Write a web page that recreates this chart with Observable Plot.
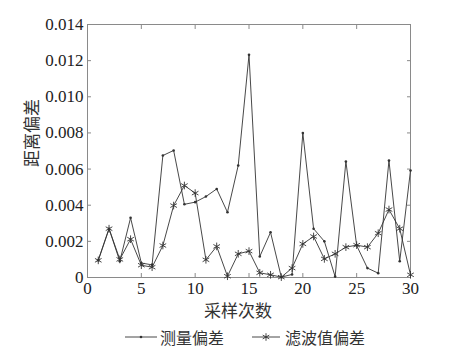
<!DOCTYPE html>
<html>
<head>
<meta charset="utf-8">
<script src="https://cdn.jsdelivr.net/npm/d3@7"></script>
<script src="https://cdn.jsdelivr.net/npm/@observablehq/plot@0.6"></script>
<style>
  html, body { margin: 0; padding: 0; background: #fff; }
  #chart { width: 450px; }
  #chart svg text { font-family: "Liberation Serif", "Times New Roman", Times, "DejaVu Serif", serif; }
  #chart svg text.cjk { font-family: "Noto Sans CJK SC", sans-serif; }
  .legend { display: flex; align-items: center; height: 30px; margin-top: 0px; font-family: "Noto Sans CJK SC", sans-serif; font-size: 16px; color: #333; }
  .legend .item { display: flex; align-items: center; }
  .legend svg { display: block; }
</style>
</head>
<body>
<div id="chart"></div>
<script>
const samples = d3.range(1, 31);
const measured = [0.00095, 0.0027, 0.0009, 0.0033, 0.0008, 0.0007, 0.00675, 0.00703, 0.00405, 0.00417,
                  0.00448, 0.0049, 0.00361, 0.0062, 0.01232, 0.00116, 0.0025, 0.00002, 0.00017, 0.00799,
                  0.0027, 0.002, 0.00005, 0.00642, 0.00177, 0.00052, 0.00024, 0.00647, 0.0009, 0.00592];
const filtered = [0.00095, 0.0027, 0.001, 0.00212, 0.00068, 0.00057, 0.00177, 0.00398, 0.00509, 0.00467,
                  0.00098, 0.00172, 0.00007, 0.00131, 0.00146, 0.00026, 0.00015, 0.00002, 0.00052, 0.00186,
                  0.00227, 0.00103, 0.00131, 0.00168, 0.00179, 0.00168, 0.00245, 0.00376, 0.0027, 0.00015];
const xTicks = [0, 5, 10, 15, 20, 25, 30];
const yTicks = [0, 0.002, 0.004, 0.006, 0.008, 0.010, 0.012, 0.014];
const seriesNames = ["测量偏差", "滤波值偏差"];
const xLabel = "采样次数";
const yLabel = "距离偏差";

const mData = samples.map((s, i) => ({x: s, y: measured[i]}));
const fData = samples.map((s, i) => ({x: s, y: filtered[i]}));
const yFmt = d => d === 0 ? "0" : d.toFixed(3);
const lineColor = "#333";
const frameColor = "#8a8a8a";

const chart = Plot.plot({
  width: 450,
  height: 322,
  marginLeft: 87,
  marginRight: 40,
  marginTop: 24,
  marginBottom: 45,
  style: {fontSize: "17px", color: "#222", background: "#fff"},
  x: {domain: [0, 30], ticks: xTicks},
  y: {domain: [0, 0.014], ticks: yTicks},
  marks: [
    Plot.frame({stroke: frameColor, strokeWidth: 1}),
    Plot.axisX({anchor: "bottom", ticks: xTicks, tickSize: 0, tickPadding: 4, label: null, fontSize: 17, fill: "#222"}),
    Plot.axisX({anchor: "bottom", ticks: xTicks, tickSize: -4, tickFormat: () => "", label: null, stroke: frameColor}),
    Plot.axisX({anchor: "top", ticks: xTicks, tickSize: -4, tickFormat: () => "", label: null, stroke: frameColor}),
    Plot.axisY({anchor: "left", ticks: yTicks, tickSize: 0, tickPadding: 4, tickFormat: yFmt, label: null, fontSize: 17, fill: "#222"}),
    Plot.axisY({anchor: "left", ticks: yTicks, tickSize: -4, tickFormat: () => "", label: null, stroke: frameColor}),
    Plot.axisY({anchor: "right", ticks: yTicks, tickSize: -4, tickFormat: () => "", label: null, stroke: frameColor}),
    Plot.line(mData, {x: "x", y: "y", stroke: lineColor, strokeWidth: 0.9}),
    Plot.dot(mData, {x: "x", y: "y", r: 1.3, fill: lineColor, stroke: "none"}),
    Plot.line(fData, {x: "x", y: "y", stroke: lineColor, strokeWidth: 0.9}),
    Plot.dot(fData, {x: "x", y: "y", r: 3.6, symbol: "asterisk", stroke: lineColor, strokeWidth: 0.9, fill: "none"}),
    Plot.text([xLabel], {text: d => d, frameAnchor: "bottom", lineAnchor: "middle", textAnchor: "middle", dy: 34, dx: -11, fontSize: 17, fill: "#333", className: "cjk"}),
    Plot.text([yLabel], {text: d => d, frameAnchor: "left", lineAnchor: "middle", textAnchor: "middle", rotate: -90, dx: -55, dy: -18, fontSize: 17, fill: "#333", className: "cjk"})
  ]
});
document.getElementById("chart").appendChild(chart);
chart.querySelectorAll("g.cjk text, .cjk text").forEach(t => t.classList.add("cjk"));

// legend
const legend = document.createElement("div");
legend.className = "legend";
function item(name, marker, padLeft, lineW, gap) {
  const it = document.createElement("div");
  it.className = "item";
  it.style.marginLeft = padLeft + "px";
  const svg = d3.create("svg").attr("width", lineW).attr("height", 14);
  svg.append("line").attr("x1", 0).attr("x2", lineW).attr("y1", 7).attr("y2", 7).attr("stroke", lineColor).attr("stroke-width", 0.9);
  if (marker === "dot") {
    svg.append("circle").attr("cx", lineW / 2).attr("cy", 7).attr("r", 1.3).attr("fill", lineColor);
  } else {
    svg.append("path").attr("transform", `translate(${lineW / 2},7)`).attr("d", d3.symbol(d3.symbolAsterisk, 40)()).attr("stroke", lineColor).attr("fill", "none").attr("stroke-width", 0.9);
  }
  it.appendChild(svg.node());
  const t = document.createElement("span");
  t.textContent = name;
  t.style.marginLeft = gap + "px";
  it.appendChild(t);
  return it;
}
legend.appendChild(item(seriesNames[0], "dot", 125, 32, 3));
legend.appendChild(item(seriesNames[1], "star", 28, 28, 5));
document.getElementById("chart").appendChild(legend);
</script>
</body>
</html>
